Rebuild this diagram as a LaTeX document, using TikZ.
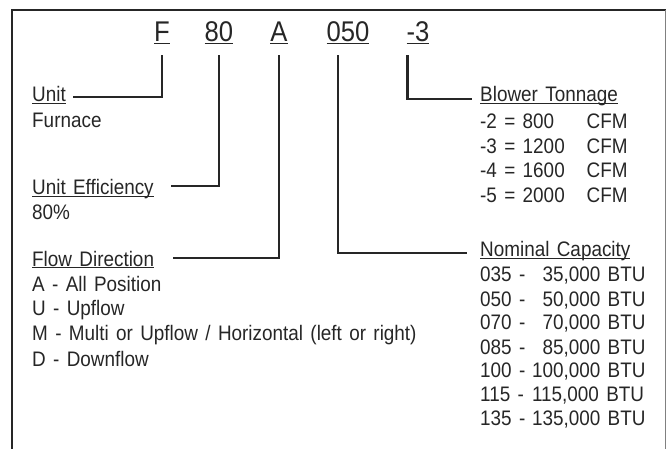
\documentclass[tikz,border=0pt]{standalone}
\usepackage{fontspec}
\setmainfont{Liberation Sans}[FakeStretch=0.9,WordSpace=1.4]
\usepackage{tikz}
\definecolor{ink}{HTML}{262626}
\newcommand\ulin[2][0.9pt]{\setbox0=\hbox{#2}\rlap{\rule[-2.2pt]{\wd0}{#1}}\box0}

\tikzset{
  code/.style={anchor=base, inner sep=0pt, text depth=13pt, text=ink,
    font=\fontsize{28.5}{30}\selectfont},
  lbl/.style={anchor=base west, inner sep=0pt, text height=12pt, text depth=0pt,
    text=ink, font=\fontsize{21}{23}\selectfont},
  lead/.style={draw=ink, line width=2.5pt},
}

\begin{document}
\begin{tikzpicture}[x=1pt,y=-1pt]
	\useasboundingbox (0,0) rectangle (667,449);
	% frame
	\draw[draw=ink, line width=2.6pt] (12,449) -- (12,10) -- (666,10);
	\draw[draw=gray, line width=0.8pt] (665.6,10) -- (665.6,449);
	% model code
	\node[code] (cF) at (162,42) {\ulin[1.3pt]{F}};
	\node[code] (c80) at (219,42) {\ulin[1.3pt]{80}};
	\node[code] (cA) at (279,42) {\ulin[1.3pt]{A}};
	\node[code] (c050) at (348,42) {\ulin[1.3pt]{050}};
	\node[code] (c3) at (418,42) {\ulin[1.3pt]{-3}};
	% left column
	\node[lbl] (unit) at (32,102) {\ulin{Unit}};
	\node[lbl] (furn) at (32,128) {Furnace};
	\node[lbl] (eff) at (32,195) {\ulin{Unit Efficiency}};
	\node[lbl] (effv) at (32,220) {80\%};
	\node[lbl] (flow) at (32,266) {\ulin{Flow Direction}};
	\node[lbl] (fa) at (32,291) {A - All Position};
	\node[lbl] (fu) at (32,316) {U - Upflow};
	\node[lbl] (fm) at (32,341) {M - Multi or Upflow / Horizontal (left or right)};
	\node[lbl] (fd) at (32,366) {D - Downflow};
	% right column
	\node[lbl] (blow) at (480,102) {\ulin{Blower Tonnage}};
	\node[lbl] (t2) at (480,129) {-2 = \makebox[64pt][l]{800}CFM};
	\node[lbl] (t3) at (480,154) {-3 = \makebox[64pt][l]{1200}CFM};
	\node[lbl] (t4) at (480,178) {-4 = \makebox[64pt][l]{1600}CFM};
	\node[lbl] (t5) at (480,203) {-5 = \makebox[64pt][l]{2000}CFM};
	\node[lbl] (cap) at (480,257) {\ulin{Nominal Capacity}};
	\node[lbl] (n1) at (480,282) {035 -\makebox[75pt][r]{35,000} BTU};
	\node[lbl] (n2) at (480,306) {050 -\makebox[75pt][r]{50,000} BTU};
	\node[lbl] (n3) at (480,330) {070 -\makebox[75pt][r]{70,000} BTU};
	\node[lbl] (n4) at (480,354) {085 -\makebox[75pt][r]{85,000} BTU};
	\node[lbl] (n5) at (480,377) {100 -\makebox[75pt][r]{100,000} BTU};
	\node[lbl] (n6) at (480,401) {115 -\makebox[75pt][r]{115,000} BTU};
	\node[lbl] (n7) at (480,425) {135 -\makebox[75pt][r]{135,000} BTU};
	% leaders
	\draw[lead] (cF.south) |- ([xshift=7pt,yshift=-1pt]unit.east);
	\draw[lead] (c80.south) |- ([xshift=17pt,yshift=3pt]eff.east);
	\draw[lead] (cA.south) |- ([xshift=19pt,yshift=2pt]flow.east);
	\draw[lead] ([xshift=11.5pt]c050.south west) |- ([xshift=-13pt,yshift=-2pt]cap.west);
	\draw[lead] ([xshift=1pt]c3.south west) |- ([xshift=-8pt,yshift=-3pt]blow.west);
\end{tikzpicture}
\end{document}
